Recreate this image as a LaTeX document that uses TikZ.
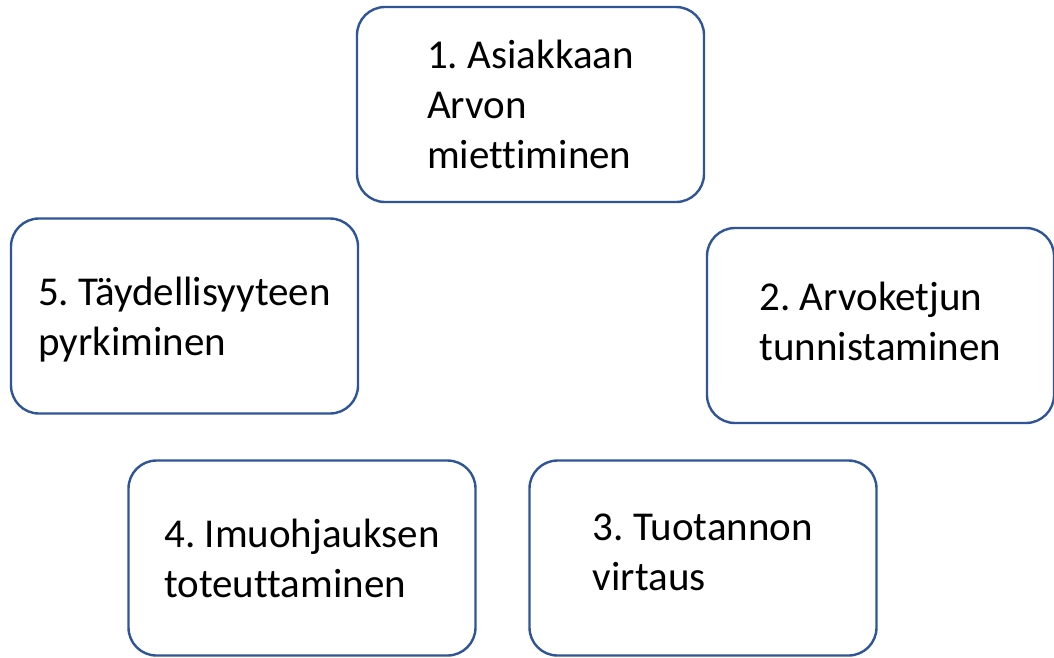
\documentclass[tikz,border=0pt]{standalone}
\usepackage{fontspec}
\setmainfont{Carlito}[Ligatures=NoCommon]
\frenchspacing
\definecolor{boxblue}{HTML}{2F5597}
\newcommand{\stA}{\rule[-11pt]{0pt}{50pt}}
\newcommand{\stB}{\rule[-20pt]{0pt}{59pt}}
\newcommand{\stC}{\rule[-25pt]{0pt}{64pt}}
\tikzset{
  stepbox/.style={draw=boxblue, line width=2.4pt, rounded corners=28pt,
    fill=white, minimum width=347pt, minimum height=195pt, inner sep=0pt,
    align=left, text=black, font=\fontsize{41pt}{50pt}\selectfont\frenchspacing}
}
\begin{document}
\begin{tikzpicture}[x=1pt, y=-1pt]
\useasboundingbox (0,0) rectangle (1054,657);
\node[stepbox] (b1) at (530.5,104.5) {\stA 1. Asiakkaan\\\stA Arvon\\\stA miettiminen};
\node[stepbox] (b2) at (880.5,325.5) {\stA 2. Arvoketjun\\\stB tunnistaminen};
\node[stepbox] (b3) at (703,558) {\stA 3. Tuotannon\\\stC virtaus};
\node[stepbox] (b4) at (302,558) {\stA 4. Imuohjauksen\\\stA toteuttaminen};
\node[stepbox] (b5) at (184.5,316) {\stA 5. Täydellisyyteen\\\stA pyrkiminen};
\end{tikzpicture}
\end{document}
